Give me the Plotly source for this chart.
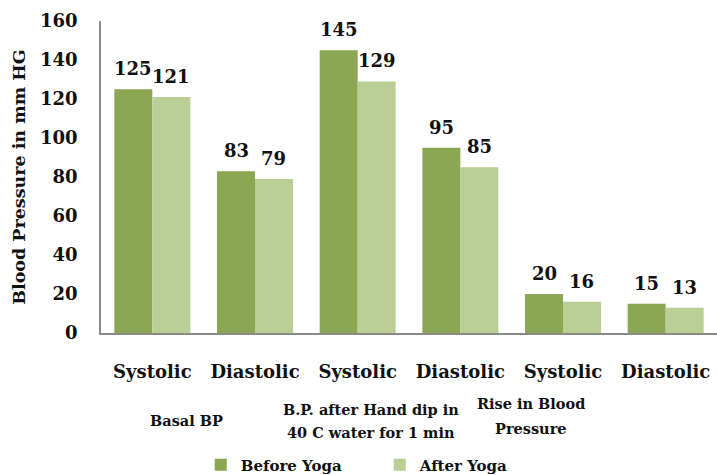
import plotly.graph_objects as go

subcats = ["Systolic", "Diastolic", "Systolic", "Diastolic", "Systolic", "Diastolic"]
group_lines = [["Basal BP"], ["B.P. after Hand dip in", "40 C water for 1 min"], ["Rise in Blood", "Pressure"]]
before_yoga = [125, 83, 145, 95, 20, 15]
after_yoga = [121, 79, 129, 85, 16, 13]
y_ticks = [0, 20, 40, 60, 80, 100, 120, 140, 160]

FONT = "DejaVu Serif"
BOLD = dict(family=FONT, color="#111", weight="bold")
xs = list(range(len(subcats)))
BARGAP = 0.26
HALF = (1 - BARGAP) / 4

fig = go.Figure()
fig.add_trace(go.Bar(x=xs, y=before_yoga, name="Before Yoga", marker_color="#8CA753",
                     marker_line_width=0))
fig.add_trace(go.Bar(x=xs, y=after_yoga, name="After Yoga", marker_color="#B9CF96",
                     marker_line_width=0))

# value labels above bars
for i, (b, a) in enumerate(zip(before_yoga, after_yoga)):
    for xv, v in ((i - HALF, b), (i + HALF, a)):
        fig.add_annotation(x=xv, y=v, xref="x", yref="y", text=str(v), showarrow=False,
                           yanchor="bottom", yshift=8, font=dict(BOLD, size=18))

# group labels (positions follow the reference's wrapped category labels)
group_x = [0.33, 2.13, 3.69]
group_y = [[-0.279], [-0.246, -0.318], [-0.225, -0.307]]
for gx, lines, gys in zip(group_x, group_lines, group_y):
    for line, gy in zip(lines, gys):
        fig.add_annotation(x=gx, y=gy, xref="x", yref="paper", text=line, showarrow=False,
                           yanchor="middle", font=dict(BOLD, size=14.5))

fig.update_layout(
    width=717, height=475, autosize=False,
    margin=dict(l=101, r=0, t=21, b=142),
    plot_bgcolor="white", paper_bgcolor="white",
    barmode="group", bargap=BARGAP, bargroupgap=0,
    font=dict(BOLD, size=16),
    showlegend=True,
    legend=dict(orientation="h", xref="container", yref="container",
                x=0.28, xanchor="left", y=0.021, yanchor="middle",
                entrywidth=134, itemwidth=30, font=dict(BOLD, size=15),
                tracegroupgap=0),
)
fig.update_xaxes(tickvals=xs, ticktext=subcats, range=[-0.5, 5.5], automargin=False,
                 showline=True, linecolor="#8a8a8a", linewidth=1.5, ticks="",
                 ticklabelstandoff=22,
                 tickfont=dict(BOLD, size=18), showgrid=False)
fig.update_yaxes(range=[0, 160], showline=True, linecolor="#8a8a8a", linewidth=1.5,
                 showgrid=False, zeroline=False, ticks="", automargin=False,
                 tickvals=y_ticks, ticktext=[str(v) for v in y_ticks],
                 ticklabelstandoff=18,
                 tickfont=dict(BOLD, size=18),
                 title=dict(text="Blood Pressure in mm HG", standoff=10,
                            font=dict(BOLD, size=17.5)))

fig.write_html("out.html", config={"displayModeBar": False, "responsive": False},
               post_script="document.body.style.margin='0';")
